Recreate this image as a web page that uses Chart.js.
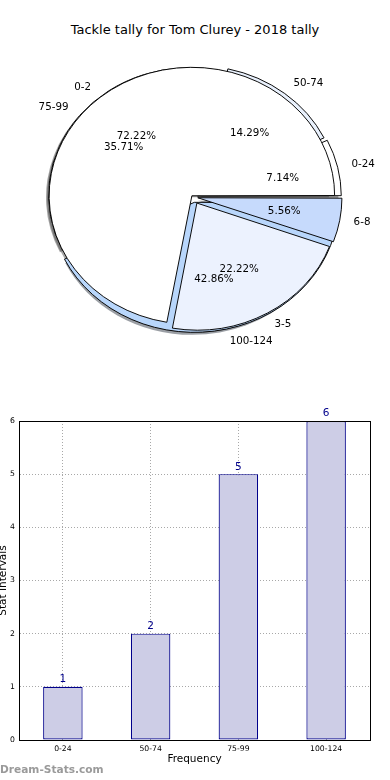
<!DOCTYPE html>
<html><head><meta charset="utf-8">
<script src="https://cdn.jsdelivr.net/npm/chart.js@4.4.1/dist/chart.umd.min.js"></script>
<style>
html,body{margin:0;padding:0;background:#fff;}
#wrap{position:relative;width:390px;height:780px;overflow:hidden;background:#fff;}
canvas{position:absolute;left:0;}
#title{position:absolute;top:22px;left:0;width:390px;text-align:center;font-family:"DejaVu Sans";font-size:13px;line-height:15px;color:#000;}
</style></head><body>
<div id="wrap">
<div id="title"></div>
<canvas id="pieA" width="390" height="400" style="top:0"></canvas>
<canvas id="pieB" width="390" height="400" style="top:0"></canvas>
<canvas id="bar" width="390" height="380" style="top:400px"></canvas>
</div>
<script>
// ---- data ----
const chartTitle = 'Tackle tally for Tom Clurey - 2018 tally';
const rangeLabels = ['0-24', '50-74', '75-99', '100-124'];
const rangeCounts = [1, 2, 5, 6];
const tallyLabels = ['0-2', '3-5', '6-8'];
const tallyCounts = [13, 4, 1];
const yTicks = [0, 1, 2, 3, 4, 5, 6];
const xAxisTitle = 'Frequency';
const yAxisTitle = 'Stat Intervals';
const watermark = 'Dream-Stats.com';

// ---- styles ----
const rangeColors = ['#ffffff', '#e9f1fd', '#ffffff', '#b8d6fb'];
const rangeOffsets = [18.9, 20, 13.5, 24.3];
const tallyColors = ['#ffffff', '#ecf2fe', '#c6dafc'];
const tallyOffsets = [7, 31.1, 19.3];
const FONT = 'DejaVu Sans';
const K = 0.9; // vertical squash of the pies

document.getElementById('title').textContent = chartTitle;

function rev(a) { return a.slice().reverse(); }
function pct(values) { const s = values.reduce((a, b) => a + b, 0); return values.map(v => (v / s * 100).toFixed(2) + '%'); }
function shift(arc) {
  const off = arc.options.offset || 0;
  const circ = arc.endAngle - arc.startAngle;
  const fix = 1 - Math.sin(Math.min(Math.PI, circ));
  return off / 4 * (1 + fix);
}
function darker(hex) {
  const n = parseInt(hex.slice(1), 16);
  const r = Math.round(((n >> 16) & 255) * 0.3), g = Math.round(((n >> 8) & 255) * 0.3), b = Math.round((n & 255) * 0.3);
  return 'rgba(' + r + ',' + g + ',' + b + ',0.5)';
}

let chartA = null, chartB = null;

function drawShadows(ctx, chart) {
  if (!chart) return;
  const meta = chart.getDatasetMeta(0);
  meta.data.forEach(arc => {
    const h = (arc.startAngle + arc.endAngle) / 2;
    const t = shift(arc);
    ctx.save();
    ctx.translate(-2.8, 2.6);
    ctx.translate(arc.x, arc.y);
    ctx.scale(1, K);
    ctx.translate(-arc.x, -arc.y);
    const cx = arc.x + Math.cos(h) * t, cy = arc.y + Math.sin(h) * t;
    ctx.beginPath();
    ctx.moveTo(cx, cy);
    ctx.arc(cx, cy, arc.outerRadius, arc.startAngle, arc.endAngle);
    ctx.closePath();
    ctx.fillStyle = darker(arc.options.backgroundColor);
    ctx.fill();
    ctx.restore();
  });
}

const ellipsePlugin = {
  id: 'ellipse',
  beforeDatasetsDraw(chart) {
    const ctx = chart.ctx;
    if (chart.canvas.id === 'pieA') { drawShadows(ctx, chartA || chart); drawShadows(ctx, chartB); }
    const a = chart.getDatasetMeta(0).data[0];
    ctx.save();
    ctx.translate(a.x, a.y);
    ctx.scale(1, K);
    ctx.translate(-a.x, -a.y);
  },
  afterDatasetsDraw(chart) { chart.ctx.restore(); }
};

function drawLabels(ctx, chart, names) {
  if (!chart) return;
  const meta = chart.getDatasetMeta(0);
  const values = chart.data.datasets[0].data;
  const p = pct(values);
  ctx.save();
  ctx.font = '10.3px "' + FONT + '"';
  ctx.fillStyle = '#000';
  ctx.textBaseline = 'middle';
  meta.data.forEach((arc, i) => {
    const h = (arc.startAngle + arc.endAngle) / 2;
    const t = shift(arc);
    const r = arc.outerRadius;
    const c = Math.cos(h), s = Math.sin(h);
    const lx = arc.x + (t + r * 1.1) * c, ly = arc.y + (t + r * 1.1) * s * K;
    ctx.textAlign = c > 0 ? 'left' : 'right';
    ctx.fillText(names[i], lx, ly);
    const px = arc.x + (t + r * 0.6) * c, py = arc.y + (t + r * 0.6) * s * K;
    ctx.textAlign = 'center';
    ctx.fillText(p[i], px, py);
  });
  ctx.restore();
}

const labelPlugin = {
  id: 'pieLabels',
  afterDraw(chart) {
    drawLabels(chart.ctx, chartA, rev(rangeLabels));
    drawLabels(chart.ctx, chart, rev(tallyLabels));
  }
};

function pieConfig(values, colors, offsets, withLabels) {
  return {
    type: 'pie',
    data: {
      labels: [],
      datasets: [{
        data: rev(values),
        backgroundColor: rev(colors),
        offset: rev(offsets),
        borderColor: '#000',
        borderWidth: 1,
        borderJoinStyle: 'miter'
      }]
    },
    options: {
      responsive: false,
      animation: false,
      events: [],
      rotation: 90,
      radius: 141,
      layout: { padding: { left: 0, right: 4, top: 0, bottom: 6 } },
      plugins: { legend: { display: false }, tooltip: { enabled: false }, title: { display: false } }
    },
    plugins: withLabels ? [ellipsePlugin, labelPlugin] : [ellipsePlugin]
  };
}

chartA = new Chart(document.getElementById('pieA'), pieConfig(rangeCounts, rangeColors, rangeOffsets, false));
chartB = new Chart(document.getElementById('pieB'), pieConfig(tallyCounts, tallyColors, tallyOffsets, true));
chartA.draw();

// ---- bar chart ----
const boxPlugin = {
  id: 'box',
  afterDraw(chart) {
    const { ctx, chartArea: a } = chart;
    ctx.save();
    ctx.strokeStyle = '#000';
    ctx.lineWidth = 1;
    ctx.strokeRect(Math.round(a.left) + 0.5, Math.round(a.top) + 0.5, Math.round(a.right - a.left), Math.round(a.bottom - a.top));
    ctx.restore();
  }
};
const valuePlugin = {
  id: 'values',
  afterDatasetsDraw(chart) {
    const ctx = chart.ctx;
    const meta = chart.getDatasetMeta(0);
    ctx.save();
    ctx.font = '10.5px "' + FONT + '"';
    ctx.fillStyle = '#00008b';
    ctx.textAlign = 'center';
    ctx.textBaseline = 'bottom';
    meta.data.forEach((bar, i) => {
      ctx.fillText(String(chart.data.datasets[0].data[i]), bar.x, bar.y - 2);
    });
    ctx.restore();
  }
};
const markPlugin = {
  id: 'mark',
  afterDraw(chart) {
    const ctx = chart.ctx;
    ctx.save();
    ctx.font = 'bold 10.6px "' + FONT + '"';
    ctx.fillStyle = '#9a9a9a';
    ctx.textAlign = 'left';
    ctx.textBaseline = 'middle';
    ctx.fillText(watermark, 0, chart.height - 10);
    ctx.restore();
  }
};

new Chart(document.getElementById('bar'), {
  type: 'bar',
  data: {
    labels: rangeLabels,
    datasets: [{
      data: rangeCounts,
      backgroundColor: '#cdcde6',
      borderColor: '#00008b',
      borderWidth: 1.2,
      borderSkipped: false,
      barPercentage: 0.45,
      categoryPercentage: 1
    }]
  },
  options: {
    responsive: false,
    animation: false,
    events: [],
    layout: { padding: { top: 21, right: 20, left: 0, bottom: 14 } },
    plugins: { legend: { display: false }, tooltip: { enabled: false } },
    scales: {
      x: {
        grid: { color: '#a8a8a8', offset: false, drawTicks: false },
        border: { color: '#000', dash: [1, 2] },
        ticks: { font: { family: FONT, size: 7.7 }, color: '#000', padding: 4, maxRotation: 0, autoSkip: false },
        title: { display: true, text: xAxisTitle, font: { family: FONT, size: 10.5 }, color: '#000', padding: 0 },
        afterFit(s) { s.height = 26; }
      },
      y: {
        min: yTicks[0], max: yTicks[yTicks.length - 1],
        afterBuildTicks(s) { s.ticks = yTicks.map(v => ({ value: v })); },
        grid: { color: '#a8a8a8', drawTicks: false },
        border: { color: '#000', dash: [1, 2] },
        ticks: { font: { family: FONT, size: 7.7 }, color: '#000', padding: 4 },
        title: { display: true, text: yAxisTitle, font: { family: FONT, size: 10.5 }, color: '#000', padding: { top: -3, bottom: 0 } },
        afterFit(s) { s.width = 19; }
      }
    }
  },
  plugins: [boxPlugin, valuePlugin, markPlugin]
});
</script>
</body></html>
